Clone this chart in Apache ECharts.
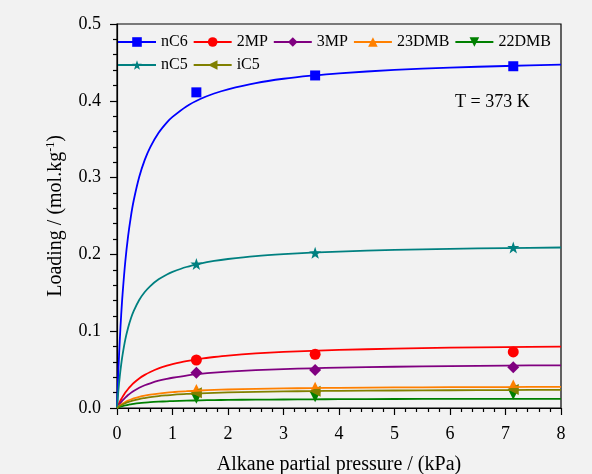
<!DOCTYPE html>
<html>
<head>
<meta charset="utf-8">
<script src="https://cdn.jsdelivr.net/npm/echarts@6/dist/echarts.min.js"></script>
<style>
  html, body { margin: 0; padding: 0; background: #f2f2f2; }
  #chart { width: 592px; height: 474px; }
</style>
</head>
<body>
<div id="chart"></div>
<script>
// fitted curves
const fitP = [0, 0.025, 0.05, 0.075, 0.1, 0.15, 0.2, 0.25, 0.3, 0.4, 0.5, 0.6, 0.75, 0.9, 1, 1.25, 1.5, 1.75, 2, 2.5, 3, 3.5, 4, 5, 6, 7, 8];
const fitNC6 = [0, 0.0488, 0.0882, 0.1207, 0.148, 0.1911, 0.2237, 0.2493, 0.2698, 0.3007, 0.323, 0.3397, 0.3583, 0.3719, 0.379, 0.3927, 0.4023, 0.4095, 0.415, 0.4231, 0.4287, 0.4327, 0.4358, 0.4402, 0.4432, 0.4453, 0.447];
const fit2MP = [0, 0.0042, 0.0079, 0.0114, 0.0145, 0.0201, 0.0248, 0.0289, 0.0325, 0.0384, 0.0431, 0.0469, 0.0515, 0.0551, 0.0571, 0.0611, 0.0641, 0.0664, 0.0683, 0.071, 0.073, 0.0745, 0.0756, 0.0773, 0.0785, 0.0793, 0.08];
const fit3MP = [0, 0.0028, 0.0054, 0.0077, 0.0099, 0.0136, 0.0169, 0.0197, 0.0222, 0.0263, 0.0296, 0.0322, 0.0355, 0.038, 0.0394, 0.0422, 0.0443, 0.046, 0.0473, 0.0493, 0.0507, 0.0517, 0.0525, 0.0537, 0.0546, 0.0552, 0.0556];
const fit23DMB = [0, 0.0017, 0.0032, 0.0046, 0.0058, 0.0079, 0.0096, 0.0111, 0.0124, 0.0145, 0.0161, 0.0173, 0.0188, 0.02, 0.0206, 0.0219, 0.0228, 0.0235, 0.0241, 0.0249, 0.0255, 0.0259, 0.0263, 0.0268, 0.0271, 0.0273, 0.0275];
const fit22DMB = [0, 0.0007, 0.0014, 0.002, 0.0025, 0.0034, 0.0042, 0.0048, 0.0054, 0.0063, 0.007, 0.0076, 0.0082, 0.0087, 0.009, 0.0096, 0.00995, 0.0103, 0.0105, 0.0109, 0.0111, 0.0113, 0.01145, 0.0117, 0.0118, 0.0119, 0.012];
const fitNC5 = [0, 0.0228, 0.0412, 0.0564, 0.0692, 0.0894, 0.1046, 0.1166, 0.1262, 0.1406, 0.151, 0.1588, 0.1675, 0.1739, 0.1772, 0.1836, 0.1881, 0.1915, 0.194, 0.1978, 0.2004, 0.2023, 0.2037, 0.2058, 0.2072, 0.2082, 0.209];
const fitIC5 = [0, 0.0013, 0.0025, 0.0035, 0.0045, 0.0062, 0.0076, 0.0088, 0.0099, 0.0117, 0.013, 0.0142, 0.0155, 0.0165, 0.0171, 0.0183, 0.0191, 0.0198, 0.0203, 0.0211, 0.0216, 0.022, 0.0224, 0.0228, 0.0231, 0.0234, 0.0236];

// measured points
const ptP = [1.43, 3.57, 7.14];
const ptNC6 = [0.411, 0.433, 0.445];
const pt2MP = [0.0625, 0.070, 0.073];
const pt3MP = [0.046, 0.0495, 0.053];
const pt23DMB = [0.024, 0.027, 0.030];
const pt22DMB = [0.0126, 0.0147, 0.018];
const ptNC5 = [0.1875, 0.202, 0.209];
const ptIC5 = [0.020, 0.0217, 0.024];

const star = 'path://M0,-10 L2.35,-3.24 9.51,-3.09 3.80,1.24 5.88,8.09 0,4 -5.88,8.09 -3.80,1.24 -9.51,-3.09 -2.35,-3.24 Z';

const species = [
  { name: 'nC6', color: '#0000ff', symbol: 'rect', rot: 0, size: 10, fit: fitNC6, pt: ptNC6 },
  { name: '2MP', color: '#ff0000', symbol: 'circle', rot: 0, size: 11, fit: fit2MP, pt: pt2MP },
  { name: '3MP', color: '#800080', symbol: 'diamond', rot: 0, size: 12, fit: fit3MP, pt: pt3MP },
  { name: '23DMB', color: '#ff8000', symbol: 'triangle', rot: 0, size: 11, fit: fit23DMB, pt: pt23DMB },
  { name: '22DMB', color: '#008000', symbol: 'triangle', rot: 180, size: 11, fit: fit22DMB, pt: pt22DMB },
  { name: 'nC5', color: '#008080', symbol: star, rot: 0, size: 12, fit: fitNC5, pt: ptNC5 },
  { name: 'iC5', color: '#808000', symbol: 'triangle', rot: 90, size: 11, fit: fitIC5, pt: ptIC5 }
];

const serif = '"Liberation Serif", "Times New Roman", serif';

let lines = [], dots = [];
species.forEach(s => {
  lines.push({
    name: s.name,
    type: 'line',
    smooth: 0.3,
    showSymbol: false,
    symbol: s.symbol,
    symbolRotate: s.rot,
    symbolSize: 10,
    lineStyle: { color: s.color, width: 1.8 },
    itemStyle: { color: s.color },
    data: fitP.map((p, i) => [p, s.fit[i]]),
    silent: true
  });
  dots.push({
    name: s.name,
    type: 'scatter',
    symbol: s.symbol,
    symbolRotate: s.rot,
    symbolSize: s.size,
    itemStyle: { color: s.color, opacity: 1 },
    data: ptP.map((p, i) => [p, s.pt[i]])
  });
});

const legendBase = {
  left: 117,
  itemWidth: 38,
  itemHeight: 12,
  itemGap: 5,
  padding: 0,
  textStyle: { fontFamily: serif, fontSize: 16, color: '#000' }
};

const chart = echarts.init(document.getElementById('chart'));
chart.setOption({
  backgroundColor: '#f2f2f2',
  animation: false,
  textStyle: { fontFamily: serif },
  grid: {
    left: 117, right: 31, top: 24, bottom: 66,
    outerBoundsMode: 'none',
    show: true, borderColor: '#000', borderWidth: 1.2, backgroundColor: 'transparent'
  },
  legend: [
    Object.assign({ top: 34, data: ['nC6', '2MP', '3MP', '23DMB', '22DMB'] }, legendBase),
    Object.assign({ top: 57, data: ['nC5', 'iC5'] }, legendBase)
  ],
  xAxis: {
    type: 'value', min: 0, max: 8, interval: 1,
    name: 'Alkane partial pressure / (kPa)',
    nameLocation: 'middle', nameGap: 47,
    nameTextStyle: { fontFamily: serif, fontSize: 20, color: '#000' },
    axisLine: { lineStyle: { color: '#000', width: 1.2 } },
    axisTick: { inside: false, length: 7, lineStyle: { color: '#000', width: 1.2 } },
    minorTick: { show: true, splitNumber: 5, length: 4, lineStyle: { color: '#000', width: 1.2 } },
    axisLabel: { margin: 17, fontFamily: serif, fontSize: 18, color: '#000' },
    splitLine: { show: false }
  },
  yAxis: {
    type: 'value', min: 0, max: 0.5, interval: 0.1,
    name: 'Loading / (mol.kg{sup|-1})',
    nameLocation: 'middle', nameGap: 50,
    nameTextStyle: {
      fontFamily: serif, fontSize: 20, color: '#000',
      rich: { sup: { fontFamily: serif, fontSize: 12, color: '#000', verticalAlign: 'top', padding: [0, 0, 10, 0] } }
    },
    axisLine: { lineStyle: { color: '#000', width: 1.2 } },
    axisTick: { inside: false, length: 7, lineStyle: { color: '#000', width: 1.2 } },
    minorTick: { show: true, splitNumber: 5, length: 4, lineStyle: { color: '#000', width: 1.2 } },
    axisLabel: { margin: 16, fontFamily: serif, fontSize: 18, color: '#000', formatter: v => v.toFixed(1) },
    splitLine: { show: false }
  },
  graphic: [{
    type: 'text', left: 455, top: 93,
    style: { text: 'T = 373 K', fontFamily: serif, fontSize: 18, fill: '#000' }
  }],
  series: lines.concat(dots)
});
</script>
</body>
</html>
